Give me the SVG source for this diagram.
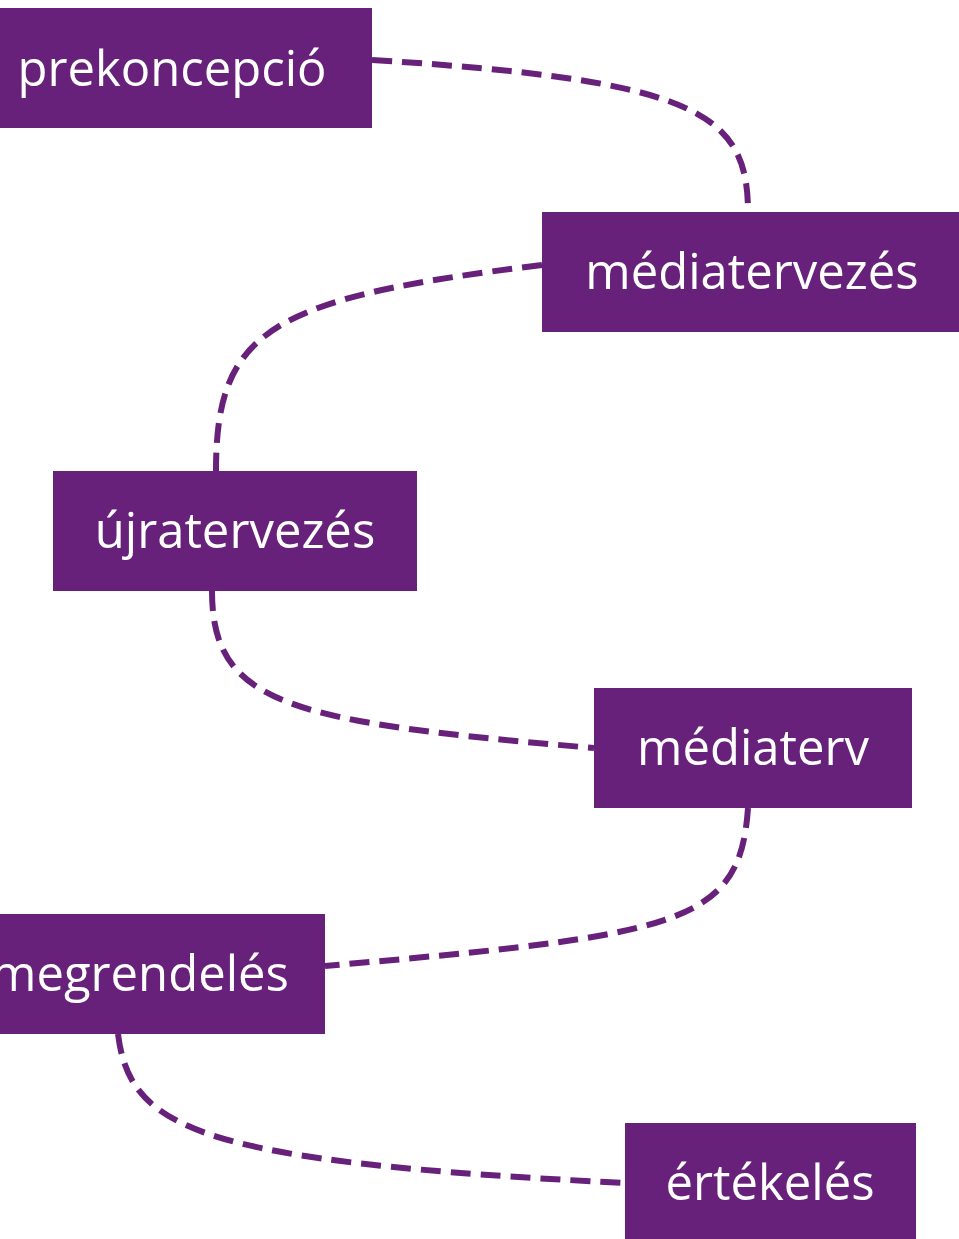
<svg xmlns="http://www.w3.org/2000/svg" width="959" height="1239" viewBox="0 0 959 1239">
<style>
.box{fill:#67217a}
.lbl{fill:#ffffff;font-family:"Open Sans","Noto Sans","DejaVu Sans",sans-serif;font-size:49px;text-anchor:middle}
.con{fill:none;stroke:#67217a;stroke-width:6;stroke-dasharray:20 10}
</style>
<rect width="959" height="1239" fill="#ffffff"/>
<g id="connectors">
<path class="con" d="M372,60 C695,80 748,112 748,212"/>
<path class="con" d="M542,265 C270,298 216,330 216,471"/>
<path class="con" d="M212,591 C212,705 290,722 594,748"/>
<path class="con" d="M748,808 C740,925 680,935 325,966"/>
<path class="con" d="M118,1034 C130,1130 200,1162 625,1183"/>
</g>
<g id="prekoncepcio"><rect class="box" x="-28" y="8" width="400" height="120"/><text class="lbl" x="172" y="86">prekoncepció</text></g>
<g id="mediatervezes"><rect class="box" x="542" y="212" width="420" height="120"/><text class="lbl" x="752" y="289">médiatervezés</text></g>
<g id="ujratervezes"><rect class="box" x="53" y="471" width="364" height="120"/><text class="lbl" x="235" y="548">újratervezés</text></g>
<g id="mediaterv"><rect class="box" x="594" y="688" width="318" height="120"/><text class="lbl" x="753" y="765">médiaterv</text></g>
<g id="megrendeles"><rect class="box" x="-40" y="914" width="365" height="120"/><text class="lbl" x="140" y="991">megrendelés</text></g>
<g id="ertekeles"><rect class="box" x="625" y="1123" width="291" height="120"/><text class="lbl" x="770" y="1200">értékelés</text></g>
</svg>
